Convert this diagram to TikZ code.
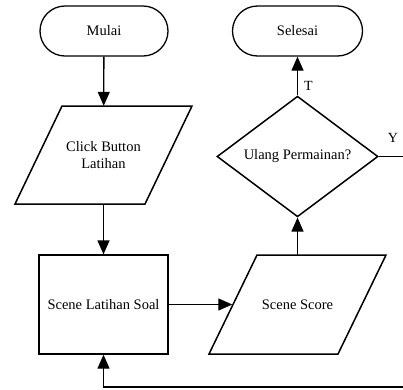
\documentclass[tikz,border=0pt]{standalone}
\usepackage{fontspec}
\setmainfont{Liberation Serif}
\usetikzlibrary{shapes.geometric,arrows.meta}
\begin{document}
\begin{tikzpicture}[x=1pt,y=-1pt,
  every node/.style={font=\fontsize{14.5}{17}\selectfont, inner sep=0pt, align=center},
  shp/.style={draw, line width=1.3pt},
  term/.style={shp, rounded corners=25pt, minimum height=50pt},
  procbox/.style={shp, rectangle, minimum width=129pt, minimum height=99pt},
  io/.style={minimum width=130pt, minimum height=98pt},
  dec/.style={shp, diamond, minimum width=161pt, minimum height=109pt},
  conn/.style={line width=1.3pt, -{Triangle[length=14pt,width=12pt]}},
  lbl/.style={font=\fontsize{14}{16}\selectfont}
]
\useasboundingbox (0,0) rectangle (403,389);
\clip (0,0) rectangle (403,389);
\node[term, minimum width=128pt] (mulai) at (104,31) {Mulai};
\node[term, minimum width=130pt] (selesai) at (297.5,31) {Selesai};
\node[io] (click) at (103.5,155) {Click Button\\Latihan};
\draw[shp, line width=1.5pt] (62,106) -- (192,106) -- (145,204) -- (15,204) -- cycle;
\node[procbox] (latihan) at (103.5,304.5) {Scene Latihan Soal};
\node[io] (score) at (297.5,304.5) {Scene Score};
\draw[shp, line width=1.5pt] (257,255) -- (386,255) -- (338,354) -- (209,354) -- cycle;
\node[dec, line width=1.5pt] (ulang) at (297.5,156.5) {Ulang Permainan?};
\coordinate (r1) at (406,156.5);
\coordinate (r2) at (406,387);
\coordinate (r3) at (103.5,387);
\draw[conn] (mulai) -- (click);
\draw[conn] (click) -- (latihan);
\draw[conn] (latihan) -- (score);
\draw[conn] (score) -- (ulang);
\draw[conn] (ulang) -- node[lbl, right=6pt, pos=0.25] {T} (selesai);
\draw[conn] (ulang.east) -- (r1) -- (r2) -- (r3) -- (latihan.south);
\node[lbl] (y) at (393,138) {Y};
\end{tikzpicture}
\end{document}
